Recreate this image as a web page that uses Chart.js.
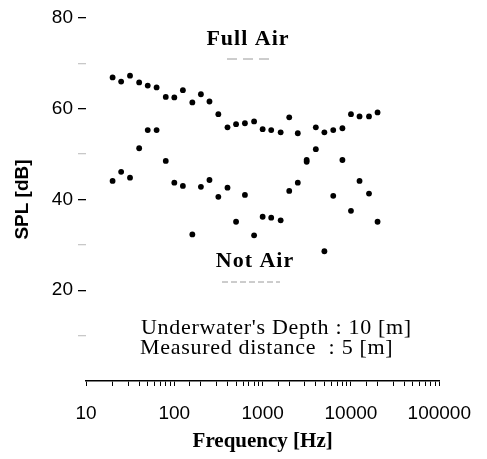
<!DOCTYPE html>
<html><head><meta charset="utf-8">
<script src="https://cdn.jsdelivr.net/npm/chart.js@4.4.1/dist/chart.umd.min.js"></script>
<style>html,body{margin:0;padding:0;background:#fff}#wrap{width:487px;height:459px}canvas{display:block}</style>
</head><body><div id="wrap"><canvas id="c" width="487" height="459"></canvas></div>
<script>
// 1/3-octave band centre frequencies [Hz]
const frequencies = [20,25,31.5,40,50,63,80,100,125,160,200,250,315,400,500,630,800,1000,1250,1600,2000,2500,3150,4000,5000,6300,8000,10000,12500,16000,20000];
// SPL [dB]
const fullAir = [66.9,66.0,67.3,65.8,65.1,64.7,62.6,62.5,64.1,61.4,63.2,61.6,58.8,55.9,56.6,56.8,57.2,55.5,55.3,54.8,58.1,54.6,48.3,55.9,54.8,55.3,55.7,58.8,58.3,58.3,59.2];
const notAir  = [44.1,46.1,44.8,51.3,55.3,55.3,48.5,43.7,43.0,32.3,42.8,44.3,40.6,42.6,35.1,41.0,32.1,36.2,36.0,35.4,41.9,43.7,48.7,51.1,28.6,40.8,48.7,37.5,44.1,41.3,35.1];
const xTickLabels = [10,100,1000,10000,100000];
const yTickLabels = [20,40,60,80];
const seriesNames = ['Full Air','Not Air'];
const noteLines = ["Underwater's Depth : 10 [m]", 'Measured distance  : 5 [m]'];

const toPts = arr => frequencies.map((f,i)=>({x:f,y:arr[i]}));
const isDecade = v => Math.abs(Math.log10(v) - Math.round(Math.log10(v))) < 1e-9;

const annot = {
  id:'annot',
  afterDraw(chart){
    const c = chart.ctx;
    c.save();
    c.fillStyle = '#000';
    c.textAlign = 'center';
    c.textBaseline = 'middle';
    c.font = 'bold 22px "Liberation Serif"';
    c.letterSpacing = '1px';
    c.fillText(seriesNames[0], 248, 39);
    c.fillText(seriesNames[1], 255, 261);
    // faint marker lines under the series names
    c.strokeStyle = '#9a9a9a';
    c.lineWidth = 1;
    c.setLineDash([10,6]);
    c.beginPath(); c.moveTo(227,59); c.lineTo(272,59); c.stroke();
    c.setLineDash([6,3]);
    c.beginPath(); c.moveTo(222,282); c.lineTo(280,282); c.stroke();
    c.setLineDash([]);
    c.textAlign = 'left';
    c.font = '22px "Liberation Serif"';
    c.letterSpacing = '0.7px';
    c.fillText(noteLines[0], 141, 328);
    c.fillText(noteLines[1], 140, 348);
    c.restore();
  }
};

new Chart(document.getElementById('c'), {
  type:'scatter',
  data:{datasets:[
    {label:seriesNames[0], data:toPts(fullAir), backgroundColor:'#000', borderColor:'#000', pointRadius:2.9, pointBorderWidth:0, pointHoverRadius:2.9},
    {label:seriesNames[1], data:toPts(notAir), backgroundColor:'#000', borderColor:'#000', pointRadius:2.9, pointBorderWidth:0, pointHoverRadius:2.9}
  ]},
  options:{
    responsive:false, animation:false, devicePixelRatio:1,
    layout:{padding:{top:18,right:43,bottom:0,left:0}},
    plugins:{legend:{display:false}, tooltip:{enabled:false}},
    scales:{
      x:{
        type:'logarithmic', min:10, max:100000, position:'bottom',
        grid:{drawOnChartArea:false, drawTicks:true, tickLength:5, tickColor:'#000', lineWidth:1},
        border:{display:true, color:'#000', width:1.6},
        ticks:{autoSkip:false, maxRotation:0, minRotation:0, padding:16, color:'#000',
          font:{family:'"Liberation Sans"', size:19},
          callback:(v)=> (isDecade(v) && xTickLabels.includes(Math.round(v))) ? String(Math.round(v)) : ''},
        title:{display:true, text:'Frequency [Hz]', color:'#000',
          font:{family:'"Liberation Serif"', size:21, weight:'bold'}, padding:{top:0,bottom:5}},
        afterFit:s=>{s.height=78;}
      },
      y:{
        min:0, max:80,
        grid:{drawOnChartArea:false, drawTicks:true, tickLength:8, lineWidth:1.3,
          tickColor:c=> yTickLabels.includes(c.tick.value) ? '#000' : (c.tick.value ? '#c8c8c8' : 'rgba(0,0,0,0)')},
        border:{display:false},
        ticks:{stepSize:10, padding:5, color:'#000', font:{family:'"Liberation Sans"', size:19},
          callback:v=> yTickLabels.includes(v) ? String(v) : ''},
        title:{display:true, text:'SPL [dB]', color:'#000',
          font:{family:'"Liberation Sans"', size:19, weight:'bold'}, padding:{top:11,bottom:0}},
        afterFit:s=>{s.width=86;}
      }
    }
  },
  plugins:[annot]
});
</script>
</body></html>
